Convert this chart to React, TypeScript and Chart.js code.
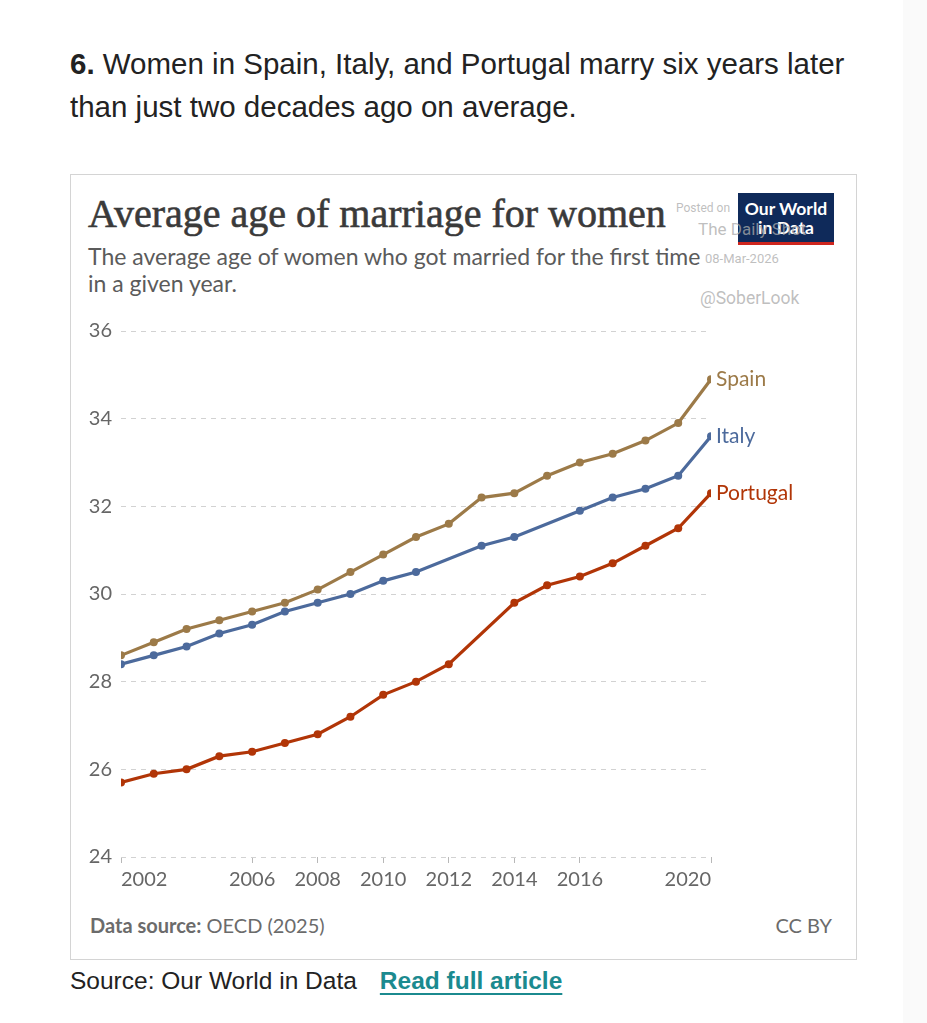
import React, { useEffect, useRef } from "react";
import { Chart, registerables } from "chart.js";

Chart.register(...registerables);

const years = [2002, 2003, 2004, 2005, 2006, 2007, 2008, 2009, 2010, 2011, 2012, 2013, 2014, 2015, 2016, 2017, 2018, 2019, 2020];
const spain = [28.6, 28.9, 29.2, 29.4, 29.6, 29.8, 30.1, 30.5, 30.9, 31.3, 31.6, 32.2, 32.3, 32.7, 33.0, 33.2, 33.5, 33.9, 34.9];
const italy = [28.4, 28.6, 28.8, 29.1, 29.3, 29.6, 29.8, 30.0, 30.3, 30.5, null, 31.1, 31.3, null, 31.9, 32.2, 32.4, 32.7, 33.6];
const portugal = [25.7, 25.9, 26.0, 26.3, 26.4, 26.6, 26.8, 27.2, 27.7, 28.0, 28.4, null, 29.8, 30.2, 30.4, 30.7, 31.1, 31.5, 32.3];
const seriesNames = ["Spain", "Italy", "Portugal"];
const seriesColors = ["#9C7A48", "#4C6A9C", "#B13507"];
const xTickYears = [2002, 2006, 2008, 2010, 2012, 2014, 2016, 2020];
const yTicks = [24, 26, 28, 30, 32, 34, 36];

const toPoints = (vals: (number | null)[]) =>
  years
    .map((y, i) => ({ x: y, y: vals[i] }))
    .filter((p) => p.y !== null) as { x: number; y: number }[];

const endLabels = {
  id: "endLabels",
  afterDatasetsDraw(chart: any) {
    const ctx = chart.ctx;
    ctx.save();
    ctx.font = "21px Lato";
    ctx.textBaseline = "middle";
    ctx.textAlign = "left";
    chart.data.datasets.forEach((ds: any, i: number) => {
      const meta = chart.getDatasetMeta(i);
      const last = meta.data[meta.data.length - 1];
      if (!last) return;
      ctx.fillStyle = ds.borderColor;
      ctx.fillText(ds.label, last.x + 5, last.y);
    });
    ctx.restore();
  },
};

function LineChart() {
  const ref = useRef<HTMLCanvasElement>(null);
  useEffect(() => {
    let chart: Chart | null = null;
    let cancelled = false;
    const make = () => {
      if (cancelled || !ref.current) return;
      const allSeries = [spain, italy, portugal];
      chart = new Chart(ref.current, {
        type: "line",
        data: {
          datasets: allSeries.map((vals, i) => ({
            label: seriesNames[i],
            data: toPoints(vals),
            borderColor: seriesColors[i],
            backgroundColor: seriesColors[i],
            borderWidth: 3.2,
            pointRadius: 4,
            pointBorderWidth: 0,
            pointBackgroundColor: seriesColors[i],
            tension: 0,
          })),
        },
        options: {
          animation: false,
          responsive: false,
          maintainAspectRatio: false,
          layout: { padding: { top: 20, right: 109, bottom: 0, left: 0 } },
          plugins: {
            legend: { display: false },
            tooltip: { enabled: false },
            title: { display: false },
          },
          scales: {
            x: {
              type: "linear",
              min: 2002,
              max: 2020,
              afterBuildTicks: (s: any) => {
                s.ticks = xTickYears.map((v) => ({ value: v }));
              },
              afterFit: (s: any) => {
                s.height = 43;
              },
              border: { display: false },
              grid: {
                drawOnChartArea: false,
                drawTicks: true,
                tickLength: 6,
                color: "#b8b8b8",
              },
              ticks: {
                autoSkip: false,
                maxRotation: 0,
                align: "inner",
                padding: 5,
                color: "#666666",
                font: { family: "Lato", size: 20 },
                callback: (v: any) => String(v),
              },
            },
            y: {
              min: 24,
              max: 36,
              afterBuildTicks: (s: any) => {
                s.ticks = yTicks.map((v) => ({ value: v }));
              },
              afterFit: (s: any) => {
                s.width = 41;
              },
              border: { display: false, dash: [5, 5] },
              grid: {
                drawTicks: false,
                color: "#d2d2d2",
                lineWidth: 1,
              },
              ticks: {
                padding: 9,
                color: "#666666",
                font: { family: "Lato", size: 20 },
              },
            } as any,
          },
        } as any,
        plugins: [endLabels],
      });
    };
    if ((document as any).fonts && (document as any).fonts.load) {
      Promise.all([
        (document as any).fonts.load("20px Lato"),
        (document as any).fonts.load("bold 20px Lato"),
      ]).then(make, make);
    } else make();
    return () => {
      cancelled = true;
      if (chart) chart.destroy();
    };
  }, []);
  return (
    <canvas
      ref={ref}
      width={740}
      height={590}
      style={{ position: "absolute", left: 80, top: 310, width: 740, height: 590 }}
    />
  );
}

export default function App() {
  const wm: React.CSSProperties = {
    position: "absolute",
    color: "rgba(170,170,170,0.75)",
    fontFamily: "Roboto, 'Liberation Sans', sans-serif",
    whiteSpace: "nowrap",
    zIndex: 3,
  };
  return (
    <div
      style={{
        position: "absolute",
        left: 0,
        top: 0,
        width: 927,
        height: 1023,
        background: "#ffffff",
        overflow: "hidden",
      }}
    >
      <div style={{ position: "absolute", left: 903, top: 0, width: 24, height: 1023, background: "#fafafa" }} />
      <div
        style={{
          position: "absolute",
          left: 70,
          top: 42,
          fontFamily: "'Liberation Sans', Arial, sans-serif",
          fontSize: 29.5,
          lineHeight: "43px",
          color: "#222222",
          whiteSpace: "nowrap",
        }}
      >
        <b>6.</b> Women in Spain, Italy, and Portugal marry six years later
        <br />
        than just two decades ago on average.
      </div>

      <div
        style={{
          position: "absolute",
          left: 70,
          top: 174,
          width: 785,
          height: 784,
          border: "1px solid #d4d4d4",
          boxSizing: "content-box",
        }}
      />

      <div
        style={{
          position: "absolute",
          left: 88,
          top: 194,
          fontFamily: "'Liberation Serif', 'DejaVu Serif', serif",
          fontSize: 40,
          lineHeight: "40px",
          color: "#3a3a3a",
          WebkitTextStroke: "0.6px #3a3a3a",
          whiteSpace: "nowrap",
        }}
      >
        Average age of marriage for women
      </div>
      <div
        style={{
          position: "absolute",
          left: 88,
          top: 243,
          fontFamily: "Lato, sans-serif",
          fontSize: 23,
          lineHeight: "27px",
          color: "#5b5b5b",
          whiteSpace: "nowrap",
        }}
      >
        The average age of women who got married for the first time
        <br />
        in a given year.
      </div>

      <div
        style={{
          position: "absolute",
          left: 738,
          top: 193,
          width: 96,
          height: 52,
          background: "#0f2a5a",
          borderBottom: "3px solid #ce261e",
          color: "#ffffff",
          fontFamily: "Lato, sans-serif",
          fontWeight: 700,
          fontSize: 17.5,
          lineHeight: "19px",
          textAlign: "center",
          paddingTop: 6,
          boxSizing: "border-box",
          zIndex: 2,
        }}
      >
        Our World
        <br />
        in Data
      </div>
      <div style={{ ...wm, left: 676, top: 201, fontSize: 12 }}>Posted on</div>
      <div style={{ ...wm, left: 698, top: 219, fontSize: 17 }}>The Daily Shot</div>
      <div style={{ ...wm, left: 705, top: 251, fontSize: 13 }}>08-Mar-2026</div>
      <div style={{ ...wm, left: 700, top: 288, fontSize: 17.5 }}>@SoberLook</div>

      <LineChart />

      <div
        style={{
          position: "absolute",
          left: 90,
          top: 913,
          fontFamily: "Lato, sans-serif",
          fontSize: 20,
          color: "#6b6b6b",
          whiteSpace: "nowrap",
        }}
      >
        <b>Data source:</b> OECD (2025)
      </div>
      <div
        style={{
          position: "absolute",
          right: 927 - 832,
          top: 913,
          fontFamily: "Lato, sans-serif",
          fontSize: 20,
          color: "#6b6b6b",
          whiteSpace: "nowrap",
        }}
      >
        CC BY
      </div>

      <div
        style={{
          position: "absolute",
          left: 70,
          top: 967,
          fontFamily: "'Liberation Sans', Arial, sans-serif",
          fontSize: 24.5,
          color: "#222222",
          whiteSpace: "nowrap",
        }}
      >
        Source: Our World in Data
        <span
          style={{
            marginLeft: 23,
            color: "#1b8a8f",
            fontWeight: 700,
            textDecoration: "underline",
            textUnderlineOffset: 4,
            textDecorationThickness: 2,
          }}
        >
          Read full article
        </span>
      </div>
    </div>
  );
}
